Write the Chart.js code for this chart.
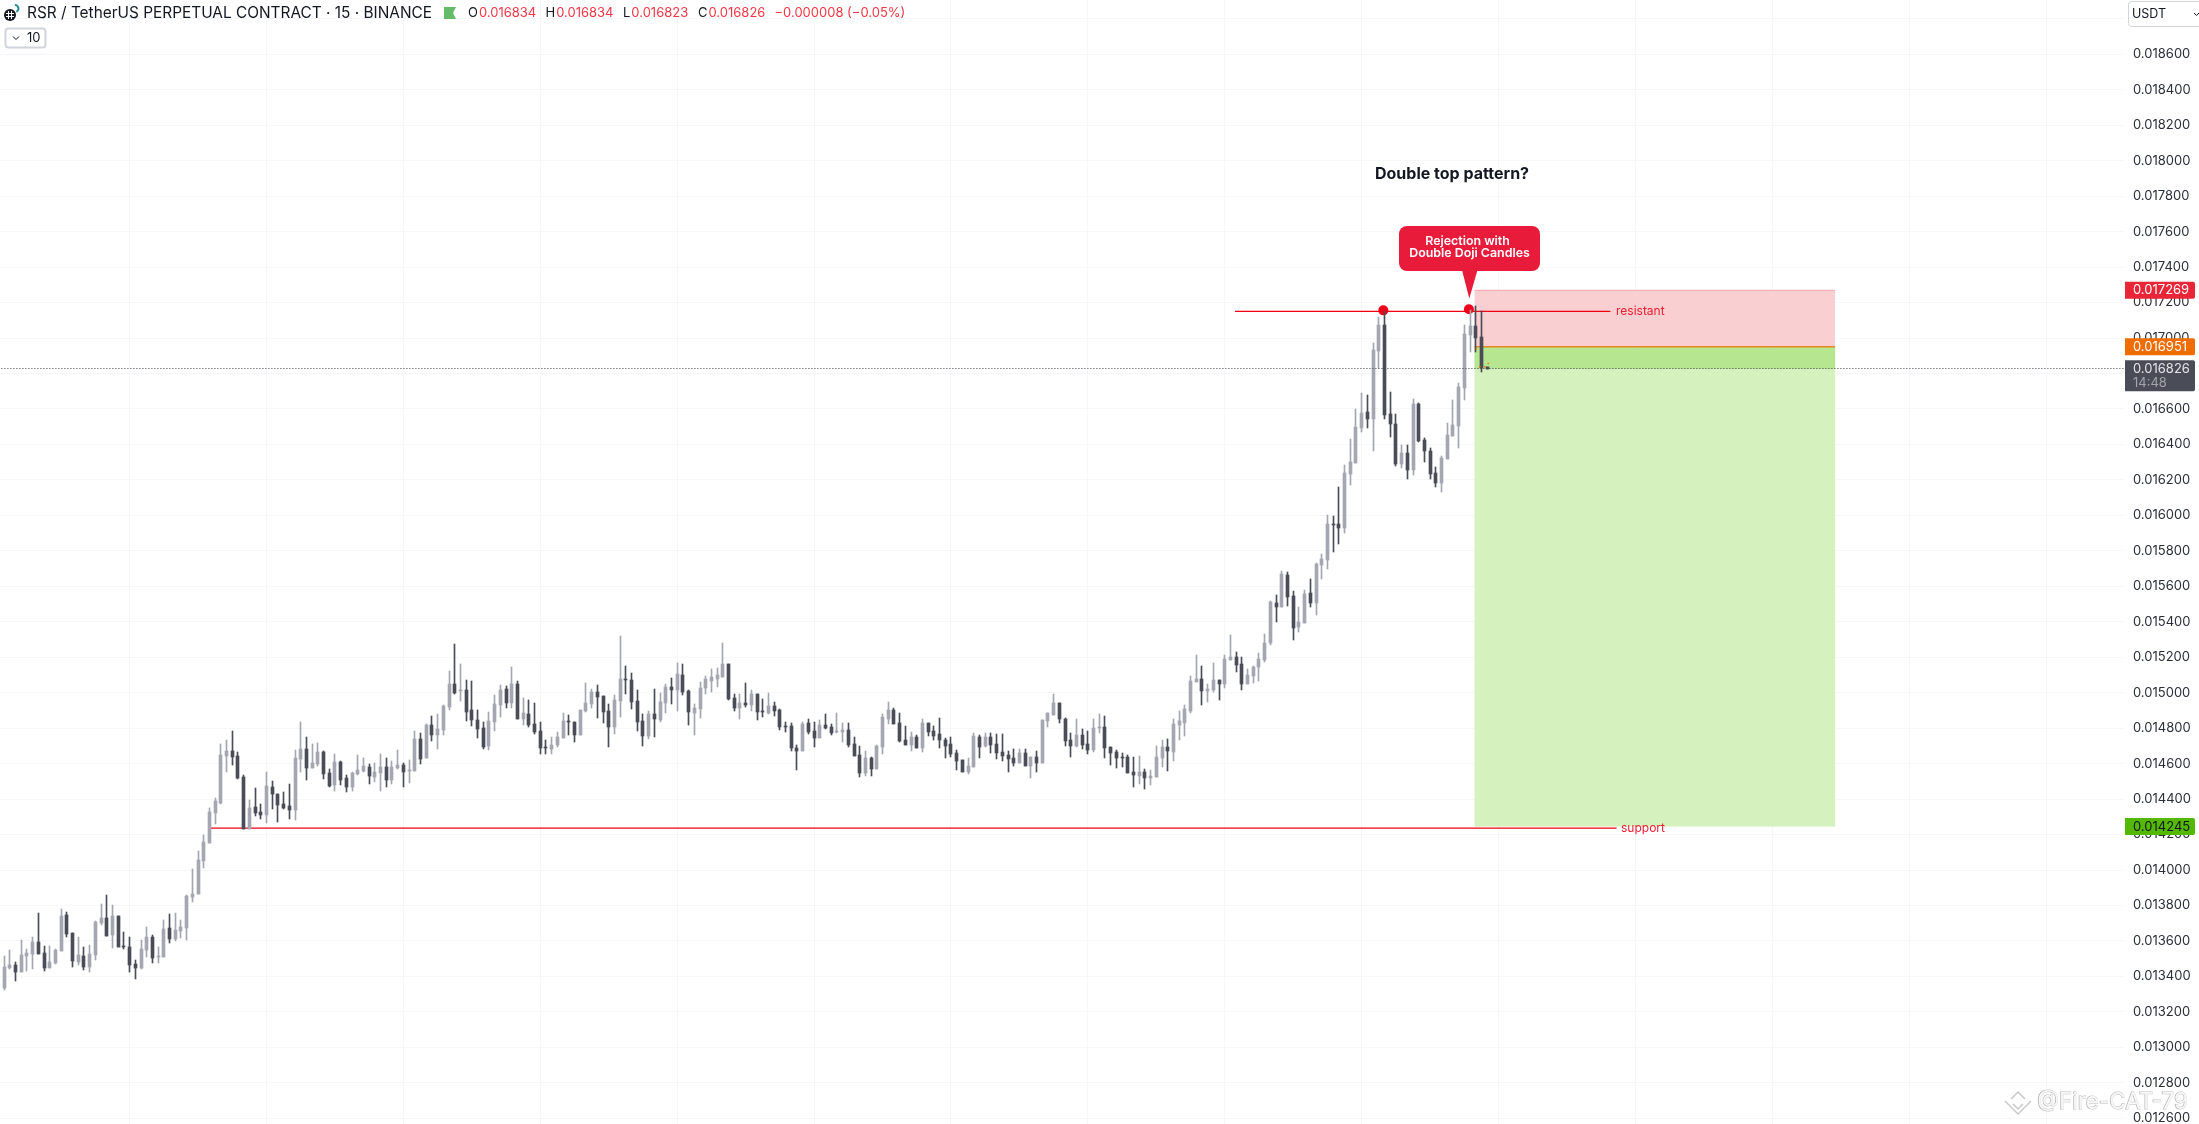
<!DOCTYPE html>
<html>
<head>
<meta charset="utf-8">
<title>RSR / TetherUS</title>
<script src="https://cdn.jsdelivr.net/npm/chart.js@4"></script>
<style>
  html, body { margin: 0; padding: 0; background: #fff; overflow: hidden; }
  canvas { display: block; }
</style>
</head>
<body>
<canvas id="chart" width="2199" height="1124"></canvas>
<script>
// candles, in millionths of a USDT left to right
const opens = [13334,13446,13463,13424,13514,13525,13593,13531,13446,13475,13542,13745,13644,13480,13514,13452,13520,13700,13728,13633,13740,13571,13565,13469,13446,13548,13621,13509,13509,13672,13610,13655,13672,13847,13864,14050,14151,14321,14377,14642,14670,14642,14524,14230,14355,14326,14309,14467,14428,14371,14360,14338,14625,14682,14574,14597,14665,14546,14479,14608,14518,14467,14541,14558,14580,14524,14546,14580,14507,14574,14591,14558,14558,14738,14631,14817,14761,14789,14919,15048,15009,15014,14902,14845,14800,14699,14834,14930,15020,14941,15048,14851,14879,14823,14783,14693,14682,14704,14744,14840,14834,14761,14896,14935,15003,14981,14896,14806,14952,15076,15071,14952,14840,14755,14879,14845,14941,15031,15014,15099,15009,14885,14907,15026,15065,15076,15088,15161,14969,14913,14941,14930,14992,14896,14885,14924,14902,14811,14811,14687,14670,14828,14783,14744,14817,14806,14778,14778,14789,14710,14648,14546,14631,14569,14693,14851,14902,14828,14732,14704,14749,14687,14828,14783,14766,14732,14710,14659,14620,14552,14580,14749,14699,14749,14710,14665,14648,14631,14603,14659,14586,14637,14603,14840,14873,14941,14851,14732,14699,14761,14710,14676,14800,14806,14693,14665,14637,14637,14552,14529,14552,14518,14524,14631,14693,14665,14817,14828,14896,15060,15076,15009,15014,15071,15048,15184,15200,15161,15048,15093,15144,15184,15279,15505,15483,15663,15545,15370,15392,15562,15505,15720,15748,15951,15951,15928,16233,16295,16492,16583,16543,16927,17073,16571,16515,16289,16351,16255,16628,16425,16363,16238,16182,16317,16447,16504,16718,17017,17068,17006,16834];
const highs = [13514,13548,13480,13604,13554,13621,13757,13571,13571,13554,13779,13762,13644,13621,13565,13576,13712,13807,13858,13802,13740,13650,13621,13492,13604,13678,13633,13565,13717,13751,13757,13717,13858,14005,14106,14197,14349,14405,14710,14732,14783,14665,14535,14394,14462,14371,14552,14501,14428,14439,14484,14676,14834,14749,14710,14715,14670,14569,14653,14614,14535,14552,14648,14631,14597,14603,14653,14631,14614,14676,14603,14620,14783,14772,14823,14868,14879,14930,15122,15274,15161,15071,15065,14902,14834,14890,14986,15043,15037,15144,15065,14969,14958,14941,14834,14732,14749,14778,14885,14873,14834,14902,15054,15020,15043,14981,14935,14986,15319,15150,15110,15014,14879,14896,15020,14997,15048,15082,15167,15161,15014,14935,15060,15093,15133,15138,15279,15161,14992,14992,15054,15014,14992,14964,14997,14947,14907,14834,14828,14704,14834,14851,14834,14845,14879,14823,14885,14828,14828,14749,14699,14670,14637,14704,14879,14947,14913,14885,14811,14778,14761,14851,14828,14811,14856,14744,14749,14676,14620,14631,14772,14761,14772,14772,14766,14766,14670,14682,14682,14682,14637,14670,14845,14885,14992,14941,14856,14772,14851,14794,14783,14851,14879,14868,14693,14676,14659,14648,14637,14642,14569,14563,14699,14732,14738,14851,14896,14930,15093,15212,15150,15048,15167,15071,15212,15325,15229,15200,15133,15150,15223,15330,15516,15550,15686,15680,15573,15483,15579,15641,15731,15782,16002,15996,16160,16284,16430,16599,16690,16678,16972,17118,17152,16695,16571,16396,16396,16656,16633,16436,16379,16272,16334,16520,16650,16746,17073,17158,17180,17152,16834];
const lows = [13322,13441,13373,13424,13430,13441,13525,13430,13446,13469,13542,13621,13452,13463,13435,13424,13492,13689,13627,13559,13565,13554,13424,13384,13441,13509,13475,13475,13509,13587,13599,13616,13604,13819,13864,14010,14151,14259,14371,14552,14591,14512,14230,14230,14304,14287,14264,14343,14270,14343,14287,14281,14552,14507,14574,14586,14512,14467,14445,14479,14439,14445,14535,14552,14484,14496,14445,14467,14484,14569,14467,14490,14558,14597,14631,14727,14682,14761,14902,14992,14952,14840,14811,14744,14682,14676,14783,14862,14913,14913,14851,14817,14806,14766,14653,14653,14653,14693,14744,14761,14721,14761,14890,14913,14856,14828,14693,14766,14862,14992,14907,14783,14699,14738,14749,14834,14885,14935,14896,14986,14817,14761,14856,14992,15003,15031,15088,14958,14896,14851,14919,14896,14845,14862,14879,14868,14789,14778,14670,14563,14670,14766,14693,14744,14794,14761,14772,14721,14693,14642,14524,14529,14529,14569,14653,14823,14823,14721,14704,14670,14687,14665,14755,14732,14687,14631,14637,14563,14552,14541,14580,14631,14693,14659,14625,14614,14552,14586,14603,14586,14518,14552,14603,14806,14873,14828,14699,14637,14693,14682,14653,14665,14772,14631,14591,14574,14580,14546,14467,14484,14456,14479,14524,14580,14558,14614,14732,14755,14885,15060,14930,14947,15003,14958,15026,15184,15116,15014,15048,15054,15065,15172,15268,15398,15483,15488,15297,15342,15392,15483,15438,15641,15697,15793,15838,15900,16171,16295,16470,16492,16363,16831,16543,16442,16278,16267,16205,16227,16413,16301,16205,16160,16131,16317,16447,16379,16650,16921,16921,16808,16823];
const closes = [13452,13463,13424,13520,13531,13593,13525,13446,13480,13548,13740,13638,13486,13520,13452,13525,13706,13728,13627,13740,13565,13565,13463,13446,13554,13621,13503,13514,13666,13610,13661,13678,13853,13864,14056,14157,14326,14388,14648,14670,14637,14518,14230,14349,14321,14309,14473,14428,14366,14349,14338,14631,14682,14574,14603,14665,14541,14473,14608,14507,14467,14546,14563,14586,14529,14552,14580,14507,14580,14591,14552,14563,14738,14625,14817,14761,14794,14924,15048,14997,15014,14890,14845,14794,14693,14840,14935,15014,14941,15048,14851,14885,14817,14778,14687,14687,14704,14749,14840,14834,14761,14902,14941,15003,14975,14890,14806,14958,15076,15071,14947,14834,14755,14879,14851,14947,15031,15014,15105,15003,14890,14913,15026,15076,15088,15099,15161,14964,14913,14941,14930,14992,14890,14890,14924,14896,14806,14806,14687,14670,14823,14778,14744,14817,14800,14772,14783,14789,14704,14642,14546,14631,14569,14699,14862,14902,14823,14727,14704,14749,14687,14828,14778,14755,14732,14699,14653,14614,14552,14586,14755,14693,14749,14704,14659,14642,14625,14603,14659,14586,14637,14603,14845,14885,14941,14851,14727,14699,14761,14704,14676,14800,14806,14687,14659,14631,14631,14546,14535,14552,14518,14529,14637,14693,14670,14823,14840,14907,15065,15076,15009,15020,15071,15048,15189,15200,15155,15048,15099,15144,15189,15279,15511,15483,15669,15539,15364,15398,15556,15505,15725,15754,15951,15945,15928,16238,16300,16498,16577,16543,16932,17073,16566,16515,16289,16351,16255,16628,16419,16363,16233,16182,16323,16453,16509,16724,17022,17068,17000,16831,16826];
const toPrice = v => v / 1e6;

// right axis ticks, 0.018800 sits under the USDT button and has no label
const priceTicks = [0.0126,0.0128,0.013,0.0132,0.0134,0.0136,0.0138,0.014,0.0142,0.0144,0.0146,0.0148,0.015,0.0152,0.0154,0.0156,0.0158,0.016,0.0162,0.0164,0.0166,0.0168,0.017,0.0172,0.0174,0.0176,0.0178,0.018,0.0182,0.0184,0.0186,0.0188];
const timeTicks = [22,46,70,94,118,142,166,190,214,238,262,286,310,334,358];

// drawings
const resistantPrice = 0.01715;
const resistantFrom = 215.8, resistantTo = 281.6;
const supportPrice = 0.014236;
const supportFrom = 36.2, supportTo = 282.7;
const topDots = [{ x: 241.8, y: 0.017156 }, { x: 256.8, y: 0.017162 }];
const exitMarks = [{ x: 258.1, y: 0.016938 }, { x: 258.7, y: 0.016838 }, { x: 259.6, y: 0.016838 }, { x: 260.2, y: 0.016857 }];
const stopPrice = 0.017269, entryPrice = 0.016951, targetPrice = 0.014245;
const boxFrom = 257.8, boxTo = 321;
const lastPrice = toPrice(closes[closes.length - 1]);

const UP = '#a5a6b2', DOWN = '#4a4c57', RED = '#f00010', UI_FONT = 'Inter, sans-serif';
const candleColors = closes.map((c, i) => c >= opens[i] ? UP : DOWN);

function roundRect(ctx, x, y, w, h, r, fill, stroke) {
    ctx.beginPath();
    ctx.roundRect(x, y, w, h, r);
    if (fill) { ctx.fillStyle = fill; ctx.fill(); }
    if (stroke) { ctx.strokeStyle = stroke; ctx.stroke(); }
}

function text(ctx, str, x, y, font, color, align, spacing) {
    ctx.font = font;
    ctx.fillStyle = color;
    ctx.textAlign = align || 'left';
    ctx.textBaseline = 'middle';
    ctx.letterSpacing = spacing || '0px';
    ctx.fillText(str, x, y);
    ctx.letterSpacing = '0px';
}

// keep the candles and the dotted price line on whole pixels so they stay crisp
const snapCandles = {
    id: 'snapCandles',
    afterDatasetsUpdate(chart) {
        [0, 1].forEach(i => {
            chart.getDatasetMeta(i).data.forEach(bar => {
                bar.x = Math.floor(bar.x) + 0.5;
                bar.y = Math.round(bar.y);
                bar.base = Math.round(bar.base);
            });
        });
        chart.getDatasetMeta(4).data.forEach(pt => { pt.y = Math.floor(pt.y) + 0.5; });
    }
};

// the long/short position box goes under the candles
const positionBox = {
    id: 'positionBox',
    beforeDatasetsDraw(chart) {
        const { ctx, scales: { x, y } } = chart;
        const left = x.getPixelForValue(boxFrom), right = x.getPixelForValue(boxTo);
        const yStop = y.getPixelForValue(stopPrice), yEntry = y.getPixelForValue(entryPrice);
        const yLast = y.getPixelForValue(lastPrice), yTarget = y.getPixelForValue(targetPrice);
        ctx.save();
        ctx.fillStyle = '#f9cfd1';
        ctx.fillRect(left, yStop, right - left, yEntry - yStop);
        ctx.fillStyle = '#d5f1bd';
        ctx.fillRect(left, yEntry, right - left, yTarget - yEntry);
        ctx.fillStyle = '#b7e691';
        ctx.fillRect(left, yEntry, right - left, yLast - yEntry);
        ctx.fillStyle = '#f9a3a8';
        ctx.fillRect(left, yStop - 0.5, right - left, 1);
        ctx.fillStyle = '#ef6c00';
        ctx.fillRect(left, yEntry - 0.5, right - left, 1.2);
        ctx.restore();
    }
};

// texts, callout and axis price tags on top of everything
const overlay = {
    id: 'overlay',
    afterDraw(chart) {
        const { ctx, scales: { x, y } } = chart;
        ctx.save();

        // header
        ctx.beginPath(); ctx.arc(10, 15, 6, 0, Math.PI * 2); ctx.fillStyle = '#131722'; ctx.fill();
        ctx.strokeStyle = '#fff'; ctx.lineWidth = 1;
        ctx.beginPath(); ctx.moveTo(8.5, 11); ctx.lineTo(8.5, 19); ctx.moveTo(11.5, 11); ctx.lineTo(11.5, 19); ctx.moveTo(6, 13.5); ctx.lineTo(14, 13.5); ctx.moveTo(6, 16.5); ctx.lineTo(14, 16.5); ctx.stroke();
        ctx.strokeStyle = '#2a8c9a'; ctx.lineWidth = 2;
        ctx.beginPath(); ctx.arc(15, 8.5, 3.5, -1.6, 1.2); ctx.stroke();
        text(ctx, 'RSR / TetherUS PERPETUAL CONTRACT · 15 · BINANCE', 27, 13.5, '15.4px ' + UI_FONT, '#131722');
        ctx.fillStyle = '#66bb6a';
        ctx.beginPath(); ctx.moveTo(444, 7); ctx.lineTo(456, 7); ctx.lineTo(453, 13); ctx.lineTo(456, 19); ctx.lineTo(444, 19); ctx.closePath(); ctx.fill();
        const legendFont = '13px ' + UI_FONT, legendRed = '#f23645';
        [['O', 468, '0.016834'], ['H', 545.5, '0.016834'], ['L', 623, '0.016823'], ['C', 698, '0.016826']].forEach(([k, px, v]) => {
            text(ctx, k, px, 13.5, legendFont, '#131722');
            text(ctx, v, px + ctx.measureText(k).width + 1, 13.5, legendFont, legendRed);
        });
        text(ctx, '−0.000008 (−0.05%)', 774.5, 13.5, legendFont, legendRed);
        roundRect(ctx, 5.5, 28.5, 40, 19, 3, '#fff', '#d1d4dc');
        ctx.strokeStyle = '#131722'; ctx.lineWidth = 1;
        ctx.beginPath(); ctx.moveTo(13, 36.5); ctx.lineTo(16, 39.5); ctx.lineTo(19, 36.5); ctx.stroke();
        text(ctx, '10', 27, 38.5, legendFont, '#131722');

        // USDT button
        roundRect(ctx, 2128.5, 1.5, 80, 25, 3, '#fff', '#d1d4dc');
        text(ctx, 'USDT', 2132, 14, '12.5px ' + UI_FONT, '#131722');
        ctx.beginPath(); ctx.moveTo(2194, 13); ctx.lineTo(2196.5, 15.5); ctx.lineTo(2199, 13); ctx.strokeStyle = '#131722'; ctx.stroke();

        // notes
        text(ctx, 'Double top pattern?', 1375, 174.5, '700 16px ' + UI_FONT, '#131722');
        text(ctx, 'resistant', 1616, y.getPixelForValue(resistantPrice), '12px ' + UI_FONT, '#ee1c30');
        text(ctx, 'support', 1621, y.getPixelForValue(supportPrice), '12px ' + UI_FONT, '#ee1c30');

        // callout
        const calloutRed = '#e91b3a';
        roundRect(ctx, 1399, 226, 141, 45, 8, calloutRed);
        ctx.fillStyle = calloutRed;
        ctx.beginPath(); ctx.moveTo(1462, 270); ctx.lineTo(1477.5, 270); ctx.lineTo(1469.3, 298.5); ctx.closePath(); ctx.fill();
        text(ctx, 'Rejection with', 1467.5, 241.5, '600 12.4px ' + UI_FONT, '#fff', 'center');
        text(ctx, 'Double Doji Candles', 1469.5, 253.5, '600 12.4px ' + UI_FONT, '#fff', 'center');

        // price tags on the axis
        const tag = (price, h, fill, color, label) => {
            const py = y.getPixelForValue(price);
            roundRect(ctx, 2125, py - 8.5, 70, h, [0, 2, 2, 0], fill);
            text(ctx, label, 2133, py, '13px ' + UI_FONT, color);
        };
        tag(stopPrice, 17, '#e92638', '#fff', stopPrice.toFixed(6));
        tag(entryPrice, 17, '#ef6c00', '#fff', entryPrice.toFixed(6));
        tag(lastPrice, 31, '#4a4d57', '#e4e5e8', lastPrice.toFixed(6));
        text(ctx, '14:48', 2133, y.getPixelForValue(lastPrice) + 14, '13px ' + UI_FONT, '#a3a5ab');
        tag(targetPrice, 17, '#54b800', '#131722', targetPrice.toFixed(6));

        // watermark
        ctx.font = '22.5px ' + UI_FONT;
        ctx.textAlign = 'left';
        ctx.textBaseline = 'middle';
        ctx.strokeStyle = '#bdbdbd';
        ctx.lineWidth = 1;
        ctx.strokeText('@Fire-CAT-79', 2037, 1102);
        ctx.fillStyle = '#f6f6f6';
        ctx.fillText('@Fire-CAT-79', 2037.5, 1102.5);
        ctx.strokeStyle = '#c9c9c9';
        ctx.lineWidth = 1.5;
        ctx.beginPath();
        ctx.moveTo(2005, 1101); ctx.lineTo(2018, 1114); ctx.lineTo(2031, 1101);
        ctx.moveTo(2011, 1099); ctx.lineTo(2018, 1092); ctx.lineTo(2025, 1099);
        ctx.moveTo(2013, 1104); ctx.lineTo(2018, 1109); ctx.lineTo(2023, 1104);
        ctx.stroke();
        ctx.restore();
    }
};

new Chart(document.getElementById('chart').getContext('2d'), {
    type: 'bar',
    data: {
        datasets: [
            {
                label: 'wick',
                data: closes.map((c, i) => ({ x: i, y: [toPrice(lows[i]), toPrice(highs[i])] })),
                backgroundColor: candleColors,
                barThickness: 1,
                grouped: false,
                minBarLength: 1,
                order: 3
            },
            {
                label: 'body',
                data: closes.map((c, i) => ({ x: i, y: [toPrice(opens[i]), toPrice(c)] })),
                backgroundColor: candleColors,
                barThickness: 3,
                grouped: false,
                minBarLength: 1,
                order: 2
            },
            {
                type: 'line',
                label: 'resistant',
                data: [{ x: resistantFrom, y: resistantPrice }, { x: resistantTo, y: resistantPrice }],
                borderColor: RED,
                borderWidth: 1.3,
                pointRadius: 0,
                order: 4
            },
            {
                type: 'line',
                label: 'support',
                data: [{ x: supportFrom, y: supportPrice }, { x: supportTo, y: supportPrice }],
                borderColor: RED,
                borderWidth: 1.3,
                pointRadius: 0,
                order: 4
            },
            {
                type: 'line',
                label: 'last',
                data: [{ x: -1, y: lastPrice }, { x: 372, y: lastPrice }],
                borderColor: '#3c3f4a',
                borderWidth: 1,
                borderDash: [1, 2],
                pointRadius: 0,
                order: 1
            },
            {
                type: 'line',
                label: 'tops',
                data: topDots,
                showLine: false,
                pointRadius: 5,
                pointBackgroundColor: '#f0001a',
                pointBorderWidth: 0,
                order: 4
            },
            {
                type: 'line',
                label: 'exits',
                data: exitMarks,
                showLine: false,
                pointStyle: 'rect',
                pointRadius: 1,
                pointBackgroundColor: '#ef6c00',
                pointBorderWidth: 0,
                order: 0
            }
        ]
    },
    options: {
        responsive: false,
        animation: false,
        devicePixelRatio: 1,
        layout: { padding: 0, autoPadding: false },
        plugins: { legend: { display: false }, tooltip: { enabled: false } },
        events: [],
        scales: {
            x: {
                type: 'linear',
                min: -0.7223,
                max: 371.65,
                offset: false,
                afterBuildTicks: scale => { scale.ticks = timeTicks.map(value => ({ value })); },
                afterFit: scale => { scale.paddingLeft = 0; scale.paddingRight = 0; scale.height = 0; },
                ticks: { display: false },
                grid: { color: '#f6f7f9', drawTicks: false, offset: false },
                border: { display: false }
            },
            y: {
                position: 'right',
                min: 0.012568,
                max: 0.018906,
                afterBuildTicks: scale => { scale.ticks = priceTicks.map(value => ({ value })); },
                afterFit: scale => { scale.width = 75; scale.paddingTop = 0; scale.paddingBottom = 0; },
                ticks: {
                    padding: 9,
                    color: '#2a2e39',
                    autoSkip: false,
                    maxRotation: 0,
                    font: { family: 'Inter', size: 13 },
                    callback: v => v > 0.0187 ? '' : v.toFixed(6)
                },
                grid: { color: '#f6f7f9', drawTicks: false },
                border: { display: false }
            }
        }
    },
    plugins: [snapCandles, positionBox, overlay]
});
</script>
</body>
</html>
